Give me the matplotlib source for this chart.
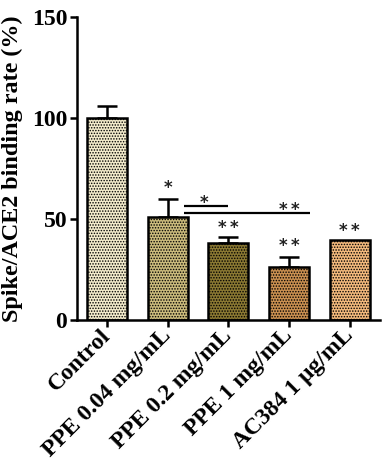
import matplotlib
matplotlib.use("Agg")
import matplotlib.pyplot as plt
import numpy as np

categories = ["Control", "PPE 0.04 mg/mL", "PPE 0.2 mg/mL", "PPE 1 mg/mL", "AC384 1 \u03bcg/mL"]
values = [100, 50.8, 38.2, 26.4, 39.6]
errors = [6, 9, 3, 5, 0]
colors = ["#F3EBCB", "#CBBB7C", "#8A7832", "#C98F50", "#F3B97C"]
hatch_colors = ["#C0B8A0", "#9C9060", "#645626", "#956636", "#C89060"]
star_labels = ["", "*", "*\u2009*", "*\u2009*", "*\u2009*"]
star_y = [None, 67.6, 47.8, 39.2, 46.5]
# comparison brackets: (x_start, x_end, y, label, label_x, label_y)
brackets = [(1.27, 2.0, 56.5, "*", 1.60, 60.3),
            (1.27, 3.34, 52.8, "*\u2009*", 3.0, 56.9)]

plt.rcParams['font.family'] = ['Liberation Serif', 'DejaVu Serif']
plt.rcParams['font.weight'] = 'bold'
plt.rcParams['hatch.linewidth'] = 0.7

fig = plt.figure(figsize=(3.83, 4.70), dpi=100)
ax = fig.add_axes([0.201, 0.319, 0.791, 0.645])

STAR_FS = 12
STAR_OFF = 4.9  # glyph center above baseline, in data units


def star(xp, yc, s):
    ax.text(xp, yc - STAR_OFF, s, ha="center", va="baseline",
            fontsize=STAR_FS, fontweight="bold", family="DejaVu Sans", color="#222222")


x = np.arange(len(categories))
for i in range(len(categories)):
    plt.rcParams['hatch.color'] = hatch_colors[i]
    ax.bar(x[i], values[i], width=0.66, color=colors[i], edgecolor="black",
           linewidth=1.8, hatch="......", zorder=2)
    if errors[i] > 0:
        ax.errorbar(x[i], values[i], yerr=[[0], [errors[i]]], fmt="none",
                    ecolor="black", elinewidth=1.8, capsize=7, capthick=1.8, zorder=1)
    if star_labels[i]:
        star(x[i], star_y[i], star_labels[i])

for (x0, x1, y, lab, lx, ly) in brackets:
    ax.plot([x0, x1], [y, y], color="black", linewidth=1.6, solid_capstyle="butt")
    star(lx, ly, lab)

ax.set_xlim(-0.5, 4.5)
ax.set_ylim(0, 150)
ax.set_yticks([0, 50, 100, 150])
ax.set_xticks(x)
ax.set_xticklabels(categories, rotation=45, ha="right", rotation_mode="anchor",
                   va="center", fontsize=17, fontweight="bold")
for lab in ax.get_yticklabels():
    lab.set_fontsize(17)
    lab.set_fontweight("bold")
ax.set_ylabel("Spike/ACE2 binding rate (%)", fontsize=17.4, fontweight="bold")
ax.yaxis.set_label_coords(-0.178, 0.5)

for s in ["top", "right"]:
    ax.spines[s].set_visible(False)
for s in ["left", "bottom"]:
    ax.spines[s].set_linewidth(1.8)
ax.tick_params(axis="both", width=1.8, length=5, direction="out", pad=2)
ax.tick_params(axis="x", pad=4)

fig.savefig("out.png", dpi=100)
